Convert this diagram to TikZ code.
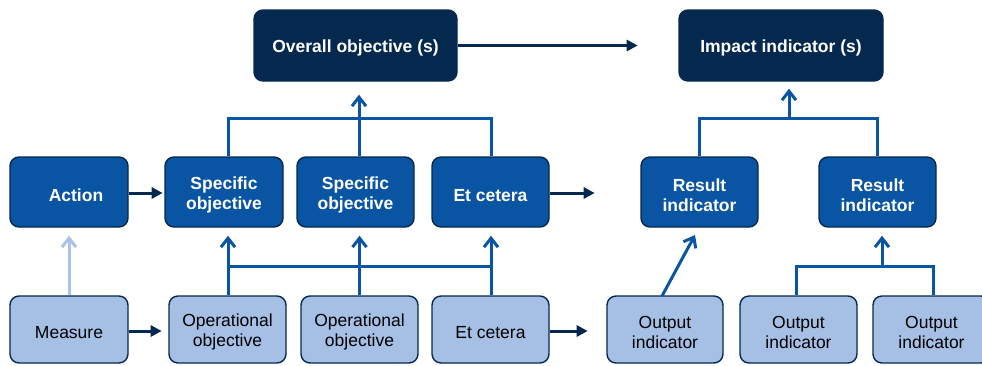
\documentclass[tikz,border=0pt]{standalone}
\usepackage{fontspec}
\setmainfont{Liberation Sans}
\usetikzlibrary{arrows.meta}
\definecolor{navy}{HTML}{05284F}
\definecolor{midblue}{HTML}{0A55A3}
\definecolor{lightblue}{HTML}{A6BFE5}
\definecolor{lightarrow}{HTML}{A9C2E8}
\newcommand{\firstline}{\rule{0pt}{18.5pt}}
\tikzset{
  box/.style={rounded corners=9pt, draw=navy, line width=1.4pt, align=center,
    font=\fontsize{17.5}{20}\selectfont, inner sep=0pt},
  darkbox/.style={box, fill=navy, text=white, font=\fontsize{17.5}{20}\selectfont\bfseries},
  midbox/.style={box, fill=midblue, text=white, font=\fontsize{17.5}{20}\selectfont\bfseries},
  lightbox/.style={box, fill=lightblue, text=black},
  harrow/.style={draw=navy, line width=3pt, -{Triangle[length=11pt,width=11pt]}},
  tee/.style={draw=midblue, line width=3pt},
  varrow/.style={draw=midblue, line width=3pt, -{Straight Barb[length=9pt,width=14pt,line width=3pt]}},
  larrow/.style={draw=lightarrow, line width=3pt, -{Straight Barb[length=9pt,width=14pt,line width=3pt]}},
}
\begin{document}
\begin{tikzpicture}[x=1pt,y=-1pt]
\useasboundingbox (0,0) rectangle (982,365);
\begin{scope}
\clip (0,0) rectangle (982,365);
% top row
\node[darkbox, minimum width=203pt, minimum height=71pt] (overall) at (355.5,45.5) {\firstline Overall objective (s)};
\node[darkbox, minimum width=204pt, minimum height=71pt] (impact) at (781,45.5) {\firstline Impact indicator (s)};
% middle row
\node[midbox, minimum width=118pt, minimum height=70pt] (action) at (69,192) {\firstline\hspace*{14pt}Action};
\node[midbox, minimum width=118pt, minimum height=70pt] (spec1) at (224,192) {\firstline Specific\\objective};
\node[midbox, minimum width=117pt, minimum height=70pt] (spec2) at (355.5,192) {\firstline Specific\\objective};
\node[midbox, minimum width=117pt, minimum height=70pt] (etc1) at (490.5,192) {\firstline Et cetera};
\node[midbox, minimum width=117pt, minimum height=70pt] (res1) at (699.5,192) {\firstline Result\\indicator};
\node[midbox, minimum width=117pt, minimum height=70pt] (res2) at (877.5,192) {\firstline Result\\indicator};
% bottom row
\node[lightbox, minimum width=118pt, minimum height=67pt] (measure) at (69,329.5) {\firstline Measure};
\node[lightbox, minimum width=117pt, minimum height=67pt] (op1) at (227.5,329.5) {\firstline Operational\\objective};
\node[lightbox, minimum width=117pt, minimum height=67pt] (op2) at (359.5,329.5) {\firstline Operational\\objective};
\node[lightbox, minimum width=117pt, minimum height=67pt] (etc2) at (490.5,329.5) {\firstline Et cetera};
\node[lightbox, minimum width=116pt, minimum height=67pt] (out1) at (665,329.5) {\firstline Output\\indicator};
\node[lightbox, minimum width=117pt, minimum height=67pt] (out2) at (798.5,329.5) {\firstline Output\\indicator};
\node[lightbox, minimum width=117pt, minimum height=67pt] (out3) at (931.5,329.5) {\firstline Output\\indicator};
\end{scope}

% coordinates
\coordinate (ta) at (228,118);
\coordinate (tb) at (359,118);
\coordinate (tc) at (491,118);
\coordinate (ra) at (699,118);
\coordinate (rb) at (789,118);
\coordinate (rc) at (877,118);
\coordinate (oa) at (228,266);
\coordinate (oc) at (491,266);
\coordinate (pa) at (796,266);
\coordinate (pb) at (882,266);
\coordinate (pc) at (933,266);
\coordinate (dstart) at (662,296);
\coordinate (dend) at (695,235);

% horizontal arrows
\draw[harrow] (overall.east) -- ++(180,0);
\draw[harrow] (action.east |- 0,193) -- ++(34,0);
\draw[harrow] (etc1.east |- 0,193) -- ++(45,0);
\draw[harrow] (measure.east |- 0,331) -- ++(33,0);
\draw[harrow] (etc2.east |- 0,331) -- ++(38,0);

% top tee
\draw[tee] (spec1.north -| ta) -- (ta) -- (tc) -- (etc1.north -| tc);
\draw[tee] (tb) -- (spec2.north -| tb);
\draw[varrow] (tb) -- ([yshift=-13pt]overall.south -| tb);
% result tee
\draw[tee] (res1.north -| ra) -- (ra) -- (rc) -- (res2.north -| rc);
\draw[varrow] (rb) -- ([yshift=-7pt]impact.south -| rb);

% operational tee
\draw[tee] (oa) -- (oc);
\draw[varrow] (op1.north -| oa) -- ([yshift=-8pt]spec1.south -| oa);
\draw[varrow] (op2.north) -- ([yshift=-8pt]spec2.south -| op2);
\draw[varrow] (etc2.north -| oc) -- ([yshift=-8pt]etc1.south -| oc);

% light arrow
\draw[larrow] (measure.north) -- ([yshift=-8pt]action.south);

% diagonal
\draw[varrow] (dstart) -- (dend);

% output tee
\draw[tee] (out2.north -| pa) -- (pa) -- (pc) -- (out3.north -| pc);
\draw[varrow] (pb) -- ([yshift=-8pt]res2.south -| pb);
\end{tikzpicture}
\end{document}
